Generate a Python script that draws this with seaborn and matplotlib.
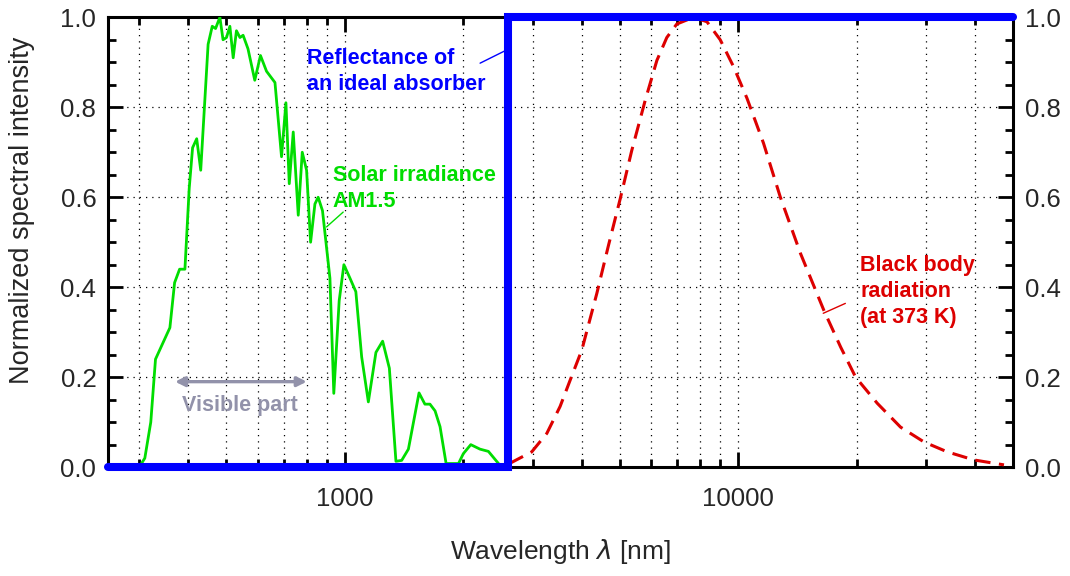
import pandas as pd
import seaborn as sns
import matplotlib.pyplot as plt
from matplotlib.ticker import FixedLocator, FixedFormatter, NullFormatter

# Data
solar_wl = [304, 310, 321, 330, 359, 369, 380, 392, 402, 410,
            420, 430, 449, 460, 469, 481, 490, 500, 510, 520,
            530, 541, 551, 567, 590, 610, 632, 664, 690, 708,
            722, 739, 761, 779, 799, 818, 839, 855, 877, 916,
            937, 967, 994, 1030, 1066, 1103, 1147, 1199, 1247, 1297,
            1348, 1394, 1450, 1543, 1597, 1645, 1695, 1745, 1808, 1944,
            2000, 2089, 2205, 2316, 2457]
solar_val = [0.008, 0.02, 0.10, 0.24, 0.31, 0.41, 0.44, 0.44, 0.62, 0.71,
             0.73, 0.66, 0.94, 0.98, 0.975, 1.0, 0.95, 0.955, 0.98, 0.91,
             0.97, 0.955, 0.96, 0.93, 0.86, 0.915, 0.88, 0.855, 0.69, 0.81,
             0.63, 0.745, 0.56, 0.70, 0.66, 0.50, 0.585, 0.60, 0.57, 0.42,
             0.164, 0.37, 0.45, 0.42, 0.39, 0.245, 0.145, 0.255, 0.28, 0.22,
             0.013, 0.015, 0.04, 0.165, 0.14, 0.14, 0.125, 0.09, 0.008, 0.008,
             0.03, 0.05, 0.04, 0.035, 0.008]

bb_wl = [2620, 2985, 3260, 3524, 3751, 4000, 4368, 4677, 5011, 5360,
         5797, 6208, 6580, 6976, 7696, 8325, 8995, 9727, 10520, 11590,
         12790, 14390, 16490, 18200, 19870, 22550, 25840, 29640, 33960, 39700,
         47350]
bb_val = [0.008, 0.034, 0.075, 0.135, 0.197, 0.26, 0.386, 0.493, 0.597, 0.704,
          0.815, 0.904, 0.955, 0.985, 1.0, 0.99, 0.95, 0.89, 0.82, 0.72,
          0.60, 0.475, 0.349, 0.267, 0.20, 0.142, 0.089, 0.056, 0.034, 0.016,
          0.005]

absorber_wl = [250, 2600, 2600, 50000]
absorber_val = [0, 0, 1, 1]

visible_range = [370, 800]
x_major = [1000, 10000]
x_major_labels = ['1000', '10000']
x_minor = [300, 400, 500, 600, 700, 800, 900,
           2000, 3000, 4000, 5000, 6000, 7000, 8000, 9000,
           20000, 30000, 40000, 50000]
y_major = [0.0, 0.2, 0.4, 0.6, 0.8, 1.0]

sns.set_style('ticks')
plt.rcParams['font.family'] = ['Liberation Sans', 'DejaVu Sans']
plt.rcParams['mathtext.fontset'] = 'dejavusans'

fig = plt.figure(figsize=(10.7, 5.76), dpi=100)
ax = fig.add_axes([0.101, 0.189, 0.846, 0.781])

green = '#00dd00'
blue = '#0000ff'
red = '#dd0000'
grey = '#9292aa'

sns.lineplot(x=solar_wl, y=solar_val, ax=ax, color=green, linewidth=2.0,
             sort=False, estimator=None, zorder=3)
sns.lineplot(x=bb_wl, y=bb_val, ax=ax, color=red, linewidth=2.2,
             linestyle=(0, (5, 2.8)), sort=False, estimator=None, zorder=3)
sns.lineplot(x=absorber_wl, y=absorber_val, ax=ax, color=blue, linewidth=5.8,
             sort=False, estimator=None, zorder=5, clip_on=False,
             solid_capstyle='round', solid_joinstyle='miter')

ax.set_xscale('log')
ax.set_xlim(250, 50000)
ax.set_ylim(0, 1)

ax.xaxis.set_major_locator(FixedLocator(x_major))
ax.xaxis.set_major_formatter(FixedFormatter(x_major_labels))
ax.xaxis.set_minor_locator(FixedLocator(x_minor))
ax.xaxis.set_minor_formatter(NullFormatter())
ax.set_yticks(y_major)
ax.set_yticklabels([f'{v:.1f}' for v in y_major])
ax.yaxis.set_minor_locator(FixedLocator([i * 0.05 for i in range(21)]))

ax.tick_params(which='both', direction='in', top=True, right=True,
               labelright=True, labelsize=18.5, width=2.0, color='black')
ax.tick_params(which='major', length=11)
ax.tick_params(which='minor', length=5.5)
ax.tick_params(axis='y', which='major', pad=8.5)
ax.tick_params(axis='x', which='major', pad=14)
for s in ax.spines.values():
    s.set_linewidth(2.2)
    s.set_color('black')

ax.grid(True, axis='y', which='major', linestyle=(0, (1, 4)), color='black', linewidth=0.9)
ax.grid(True, axis='x', which='both', linestyle=(0, (1, 4)), color='black', linewidth=0.9)

ax.set_xlabel(r'Wavelength $\lambda$ [nm]', fontsize=19, labelpad=19)
ax.set_ylabel('Normalized spectral intensity', fontsize=19.5)
ax.yaxis.set_label_coords(-0.081, 0.571)

# visible part arrow
ax.annotate('', xy=(visible_range[0], 0.19), xytext=(visible_range[1], 0.19),
            arrowprops=dict(arrowstyle='<|-|>', color=grey, lw=2.4,
                            mutation_scale=14, shrinkA=0, shrinkB=0))
ax.text(540, 0.136, 'Visible part', color=grey, fontsize=15.5, fontweight='bold',
        ha='center', va='center')

# labels with leader lines
ax.text(800, 0.88, 'Reflectance of\nan ideal absorber', color=blue, fontsize=15.5,
        fontweight='bold', ha='left', va='center', linespacing=1.3)
ax.plot([2206, 2600], [0.898, 0.929], color=blue, lw=1)

ax.text(932, 0.62, 'Solar irradiance\nAM1.5', color=green, fontsize=15.5,
        fontweight='bold', ha='left', va='center', linespacing=1.3)
ax.plot([990, 898], [0.567, 0.534], color=green, lw=1)

ax.text(20420, 0.39, 'Black body\nradiation\n(at 373 K)', color=red, fontsize=15.5,
        fontweight='bold', ha='left', va='center', linespacing=1.3)
ax.plot([18710, 16440], [0.364, 0.342], color=red, lw=1)

fig.savefig('out.png', dpi=100)
